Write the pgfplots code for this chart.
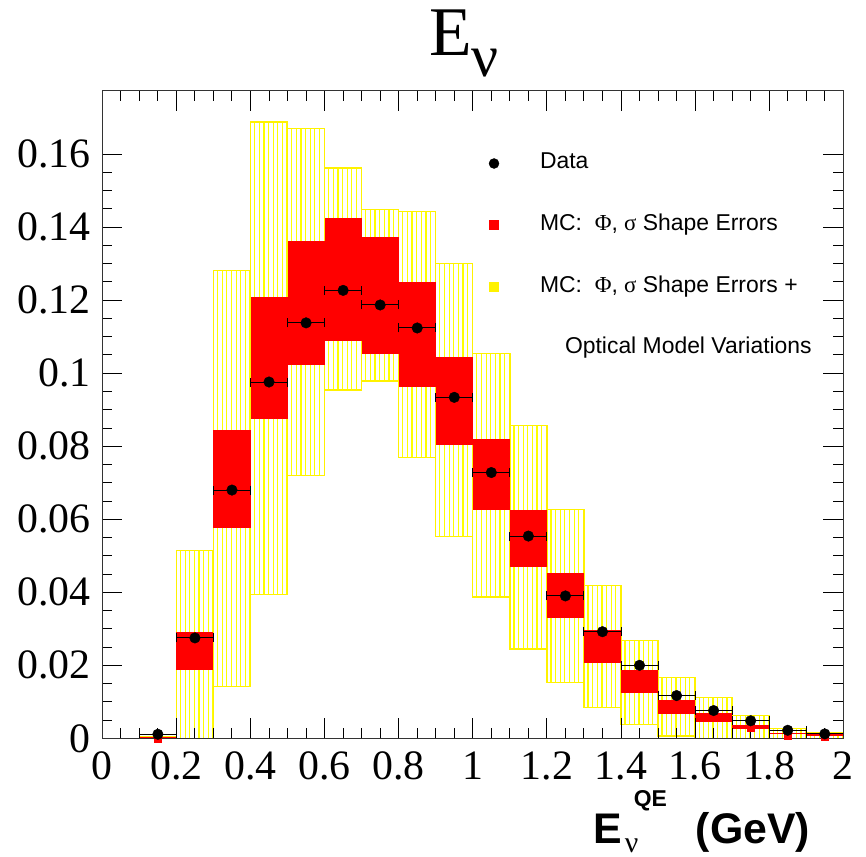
\documentclass[border=0pt]{standalone}
\usepackage{fontspec}
\setmainfont{Liberation Serif}
\newfontfamily\sansf{Liberation Sans}
\usepackage{pgfplots}
\usepackage{pgfplotstable}
\pgfplotsset{compat=1.18}
\usetikzlibrary{patterns.meta}

% bin centre, data, MC shape band (lo/hi), MC shape + optical model band (lo/hi), MC central value
\pgfplotstableread{
x    dat     rlo     rhi     ylo     yhi     mc
0.15 0.0011  0.0000  0.0003  0.0000  0.0005  0.0000
0.25 0.0275  0.0187  0.0290  0.0000  0.0515  0.0238
0.35 0.0680  0.0576  0.0845  0.0141  0.1281  0.0710
0.45 0.0976  0.0875  0.1209  0.0393  0.1688  0.1042
0.55 0.1138  0.1023  0.1363  0.0719  0.1671  0.1193
0.65 0.1227  0.1089  0.1426  0.0954  0.1562  0.1257
0.75 0.1187  0.1053  0.1373  0.0979  0.1448  0.1213
0.85 0.1124  0.0962  0.1251  0.0770  0.1443  0.1106
0.95 0.0934  0.0804  0.1045  0.0552  0.1301  0.0924
1.05 0.0728  0.0626  0.0819  0.0387  0.1055  0.0722
1.15 0.0554  0.0470  0.0626  0.0245  0.0856  0.0548
1.25 0.0390  0.0329  0.0452  0.0152  0.0626  0.0390
1.35 0.0292  0.0207  0.0297  0.0084  0.0418  0.0252
1.45 0.0200  0.0123  0.0186  0.0038  0.0268  0.0154
1.55 0.0117  0.0067  0.0105  0.0006  0.0167  0.0086
1.65 0.0076  0.0044  0.0068  0.0000  0.0112  0.0056
1.75 0.0048  0.0025  0.0037  0.0000  0.0062  0.0030
1.85 0.0022  0.0011  0.0015  0.0000  0.0026  0.0008
1.95 0.0012  0.0006  0.0012  0.0000  0.0015  0.0005
}\bins

\newcommand{\legfont}{\sansf\fontsize{23}{23}\selectfont}

\begin{document}
\begin{tikzpicture}
\path[use as bounding box] (0,0) rectangle (866bp,857bp);
\begin{axis}[
  at={(102.3bp,118.7bp)}, anchor=south west,
  scale only axis, width=741bp, height=647.6bp,
  xmin=0, xmax=2, ymin=0, ymax=0.1774,
  axis on top,
  xtick={0,0.2,0.4,0.6,0.8,1,1.2,1.4,1.6,1.8,2},
  ytick={0,0.02,0.04,0.06,0.08,0.1,0.12,0.14,0.16},
  minor x tick num=3, minor y tick num=3,
  tick align=inside,
  major tick length=20bp, minor tick length=10bp,
  tick style={black, line width=1bp},
  axis line style={black!80, line width=1bp},
  scaled ticks=false,
  /pgf/number format/assume math mode=true,
  /pgf/number format/fixed,
  /pgf/number format/precision=2,
  tick label style={font=\fontsize{42}{42}\selectfont},
  yticklabel style={inner xsep=11.5bp, inner ysep=0pt},
  xticklabel style={inner ysep=13.4bp, inner xsep=0pt},
  xlabel={\sansf\bfseries\fontsize{43}{43}\selectfont E\kern3bp\rlap{\raisebox{-9bp}{\rmfamily\mdseries\fontsize{30}{30}\selectfont ν}}\kern9bp\rlap{\raisebox{37bp}{\fontsize{23}{23}\selectfont QE}}\kern62bp(GeV)},
  xlabel style={at={(axis description cs:0.6622,-0.1617)}, anchor=base west, inner sep=0pt},
  legend cell align=left,
  legend style={at={(axis description cs:0.5192,0.9038)}, anchor=north west,
    draw=none, fill=none, inner sep=0pt, outer sep=0pt, row sep=40.5bp,
    font=\legfont,
    nodes={inner sep=0pt, text height=16bp, text depth=5bp},
    /tikz/column 1/.style={column sep=39bp}},
]

% MC: flux and cross-section shape errors plus optical model variations (hatched)
\pgfplotsinvokeforeach{0,...,18}{
  \pgfplotstablegetelem{#1}{x}\of\bins
  \pgfmathsetmacro\binlft{\pgfplotsretval-0.05}
  \pgfmathsetmacro\binrgt{\pgfplotsretval+0.05}
  \pgfplotstablegetelem{#1}{ylo}\of\bins \let\boxlo\pgfplotsretval
  \pgfplotstablegetelem{#1}{yhi}\of\bins \let\boxhi\pgfplotsretval
  \addplot[draw=yellow, line width=1.3bp,
    pattern={Lines[angle=90,distance=4.63bp,line width=1.2bp]}, pattern color=yellow,
    forget plot]
    coordinates {(\binlft,\boxlo) (\binrgt,\boxlo) (\binrgt,\boxhi) (\binlft,\boxhi)} -- cycle;
}

% MC: flux and cross-section shape errors (solid)
\pgfplotsinvokeforeach{0,...,18}{
  \pgfplotstablegetelem{#1}{x}\of\bins
  \pgfmathsetmacro\binlft{\pgfplotsretval-0.05}
  \pgfmathsetmacro\binrgt{\pgfplotsretval+0.05}
  \pgfplotstablegetelem{#1}{rlo}\of\bins \let\boxlo\pgfplotsretval
  \pgfplotstablegetelem{#1}{rhi}\of\bins \let\boxhi\pgfplotsretval
  \addplot[draw=none, fill=red, forget plot]
    coordinates {(\binlft,\boxlo) (\binrgt,\boxlo) (\binrgt,\boxhi) (\binlft,\boxhi)} -- cycle;
}

% MC central values
\addplot[only marks, mark=square*, mark size=3.7bp, red, forget plot]
  table[x=x, y=mc] {\bins};

% data with bin-width horizontal bars
\addplot[only marks, mark=*, mark size=5.3bp, black, forget plot,
  error bars/.cd, x dir=both, x fixed=0.05,
  error bar style={line width=1bp, black},
  error mark options={rotate=90, mark size=4.5bp, line width=1bp, black}]
  table[x=x, y=dat] {\bins};

\addlegendimage{legend image code/.code={\path[draw=none, fill=none] (-7bp,-7bp) rectangle (7bp,7bp);
  \fill[black] (0bp,0bp) circle (5bp);}}
\addlegendentry{Data}
\addlegendimage{legend image code/.code={\path[draw=none, fill=none] (-7bp,-7bp) rectangle (7bp,7bp);
  \fill[red] (-4.5bp,-4.5bp) rectangle (4.5bp,4.5bp);}}
\addlegendentry{MC:\ \ {\rmfamily Φ}, {\rmfamily σ} Shape Errors}
\addlegendimage{legend image code/.code={\path[draw=none, fill=none] (-7bp,-7bp) rectangle (7bp,7bp);
  \fill[yellow] (-4.5bp,-4.5bp) rectangle (4.5bp,4.5bp);}}
\addlegendentry{MC:\ \ {\rmfamily Φ}, {\rmfamily σ} Shape Errors +}
\addlegendimage{legend image code/.code={\path[draw=none, fill=none] (-7bp,-7bp) rectangle (7bp,7bp);}}
\addlegendentry{\hspace*{25bp}Optical Model Variations}
\end{axis}

\node[anchor=base west, inner sep=0pt] at (429bp,801bp)
  {\fontsize{70}{70}\selectfont E\raisebox{-21bp}{\fontsize{60}{60}\selectfont ν}};
\end{tikzpicture}
\end{document}
